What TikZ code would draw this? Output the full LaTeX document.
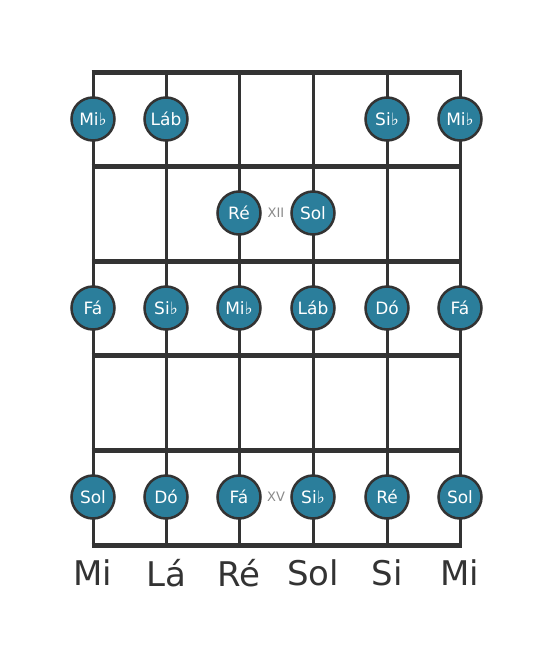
\documentclass[tikz,border=0pt]{standalone}
\usepackage{fontspec}
\setmainfont{DejaVu Sans}
\definecolor{notefill}{HTML}{2B7E9B}
\definecolor{wire}{HTML}{333333}
\definecolor{fretgray}{HTML}{8A8A8A}
\tikzset{
  note/.style={circle, draw=wire, line width=2.5pt, fill=notefill, minimum size=43pt,
    inner sep=0pt, text=white, font=\fontsize{17}{17}\selectfont},
  fretno/.style={text=fretgray, font=\fontsize{13}{13}\selectfont},
  stringname/.style={text=wire, font=\fontsize{34}{34}\selectfont},
}
\begin{document}
\begin{tikzpicture}[x=1pt,y=-1pt]
    \useasboundingbox (0,0) rectangle (553,656);
    % Cuerdas
    \foreach \i/\x/\nome in {1/93/Mi, 2/166/Lá, 3/239/Ré, 4/313/Sol, 5/387/Si, 6/460/Mi} {
        \coordinate (top\i) at (\x,72);
        \coordinate (bot\i) at (\x,545);
        \draw[wire, line width=3pt] (top\i) -- (bot\i);
        \node[stringname] (name\i) at (\x,573) {\nome};
    }
    % Trastes
    \foreach \j/\y in {0/72, 1/166, 2/261, 3/355, 4/450, 5/545} {
        \coordinate (fl\j) at (91.5,\y);
        \coordinate (fr\j) at (461.5,\y);
        \draw[wire, line width=5pt] (fl\j) -- (fr\j);
    }
    % Notas
    \foreach \i/\y/\txt in {
        1/119/Mi♭, 2/119/Láb, 5/119/Si♭, 6/119/Mi♭,
        3/213/Ré, 4/213/Sol,
        1/308/Fá, 2/308/Si♭, 3/308/Mi♭, 4/308/Láb, 5/308/Dó, 6/308/Fá,
        1/497/Sol, 2/497/Dó, 3/497/Fá, 4/497/Si♭, 5/497/Ré, 6/497/Sol} {
        \node[note] (n\i-\y) at (top\i |- 0,\y) {\txt};
    }
    \node[fretno] (xii) at (276,213) {XII};
    \node[fretno] (xv) at (276,497) {XV};
\end{tikzpicture}
\end{document}
